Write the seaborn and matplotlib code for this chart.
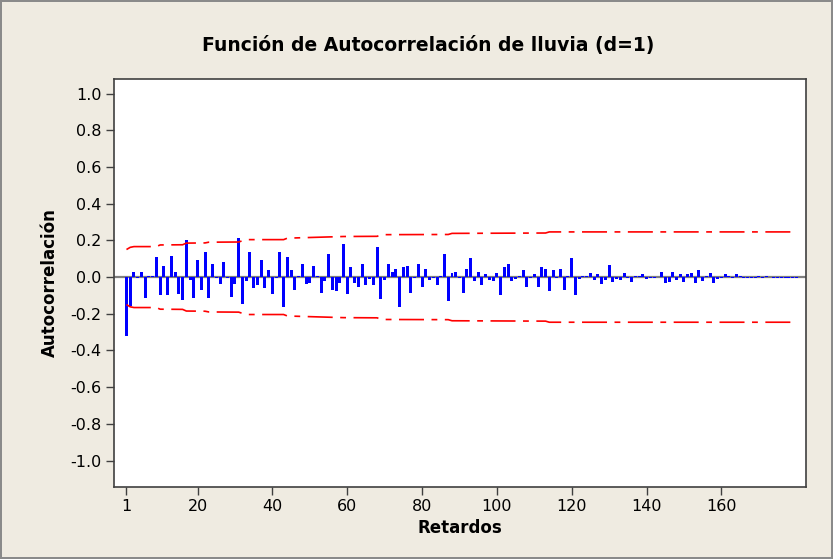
import matplotlib
matplotlib.use("Agg")
import matplotlib.pyplot as plt
import seaborn as sns
import pandas as pd

# autocorrelation values, lags 1..180
acf_vals = [
    -0.320, -0.160, 0.030, -0.007, 0.030, -0.116, 0.005, 0.005, 0.110, -0.100,
    0.062, -0.100, 0.116, 0.030, -0.093, -0.124, 0.204, -0.015, -0.116, 0.095,
    -0.070, 0.135, -0.116, 0.070, -0.005, -0.036, 0.080, -0.004, -0.110, -0.036,
    0.213, -0.147, -0.022, 0.135, -0.062, -0.045, 0.095, -0.062, 0.040, -0.093,
    -0.004, 0.135, -0.164, 0.110, 0.040, -0.070, 0.005, 0.070, -0.036, -0.030,
    0.062, 0.007, -0.087, -0.022, 0.125, -0.070, -0.078, -0.030, 0.180, -0.093,
    0.055, -0.030, -0.055, 0.070, -0.045, -0.010, -0.045, 0.164, -0.118, -0.015,
    0.070, 0.025, 0.045, -0.164, 0.055, 0.062, -0.087, -0.007, 0.070, -0.055,
    0.045, -0.015, -0.007, -0.045, 0.005, 0.125, -0.133, 0.022, 0.030, -0.007,
    -0.087, 0.045, 0.104, -0.022, 0.030, -0.045, 0.015, -0.015, -0.022, 0.022,
    -0.100, 0.055, 0.070, -0.022, -0.010, 0.005, 0.040, -0.055, -0.007, 0.015,
    -0.055, 0.055, 0.045, -0.076, 0.040, -0.007, 0.045, -0.070, 0.005, 0.104,
    -0.095, -0.009, 0.004, 0.004, 0.020, -0.018, 0.015, -0.038, -0.018, 0.064,
    -0.025, -0.009, -0.018, 0.020, -0.007, -0.025, 0.004, 0.004, 0.015, -0.009,
    -0.007, -0.007, 0.003, 0.029, -0.035, -0.025, 0.029, -0.018, 0.015, -0.025,
    0.015, 0.020, -0.031, 0.036, -0.024, 0.005, 0.020, -0.031, -0.009, -0.007,
    0.015, 0.005, -0.007, 0.015, 0.005, -0.007, -0.007, -0.007, -0.007, 0.004,
    -0.005, 0.004, 0.003, -0.005, -0.006, -0.004, -0.006, -0.006, -0.005, -0.005,
]
lags = list(range(1, len(acf_vals) + 1))

# upper significance limit (read at the points where it changes)
limit_lags = [1, 2, 3, 9, 10, 16, 17, 22, 23, 31, 32, 33, 43, 44, 59, 68, 69, 87, 88, 113, 114, 180]
limit_vals = [0.150, 0.162, 0.166, 0.166, 0.175, 0.176, 0.185, 0.186, 0.190, 0.191, 0.198,
              0.204, 0.204, 0.212, 0.221, 0.222, 0.231, 0.232, 0.238, 0.240, 0.246, 0.246]

x_ticks = [1, 20, 40, 60, 80, 100, 120, 140, 160]
y_ticks = [1.0, 0.8, 0.6, 0.4, 0.2, 0.0, -0.2, -0.4, -0.6, -0.8, -1.0]

bg = "#EFEBE1"
sns.set_style("white")
plt.rcParams["font.family"] = ["DejaVu Sans"]
plt.rcParams["text.color"] = "black"
plt.rcParams["axes.labelcolor"] = "black"
plt.rcParams["xtick.color"] = "black"
plt.rcParams["ytick.color"] = "black"

fig = plt.figure(figsize=(8.33, 5.59), dpi=100)
fig.patch.set_facecolor(bg)
fig.patch.set_edgecolor("#8a8a8a")
fig.patch.set_linewidth(1.5)
ax = fig.add_axes([0.137, 0.129, 0.831, 0.730])

df = pd.DataFrame({"lag": lags, "acf": acf_vals})
sns.barplot(data=df, x="lag", y="acf", native_scale=True, color="#0000FF",
            saturation=1, width=0.8, errorbar=None, linewidth=0, ax=ax, zorder=3)

ax.axhline(0, color="#7f7f7f", lw=1.6, zorder=2)

lim = pd.DataFrame({"lag": limit_lags, "up": limit_vals})
lim["low"] = -lim["up"]
dash = (0, (15, 4.5, 3.5, 4.5))
sns.lineplot(data=lim, x="lag", y="up", color="#FF0000", lw=1.2, ax=ax, zorder=4)
sns.lineplot(data=lim, x="lag", y="low", color="#FF0000", lw=1.2, ax=ax, zorder=4)
for ln in ax.lines[1:]:
    ln.set_linestyle(dash)

ax.set_xlim(-2.3, 182.7)
ax.set_ylim(-1.143, 1.08)
ax.set_xticks(x_ticks)
ax.set_xticklabels([str(t) for t in x_ticks])
ax.set_yticks(y_ticks)
ax.set_yticklabels([f"{t:.1f}" for t in y_ticks])
ax.tick_params(axis="both", direction="out", length=6, width=1, color="#404040",
               labelsize=11.5, labelcolor="black", bottom=True, left=True, pad=3)
for s in ax.spines.values():
    s.set_color("#404040")
    s.set_linewidth(1.2)

ax.set_facecolor("white")
ax.set_xlabel("Retardos", fontsize=12, fontweight="bold", labelpad=3, color="black")
ax.set_ylabel("Autocorrelación", fontsize=12, fontweight="bold", labelpad=8, color="black")
fig.suptitle("Función de Autocorrelación de lluvia (d=1)", x=0.514, y=0.935,
             fontsize=13.5, fontweight="bold", color="black")

fig.savefig("out.png", dpi=100, facecolor=fig.get_facecolor(), edgecolor=fig.get_edgecolor())
